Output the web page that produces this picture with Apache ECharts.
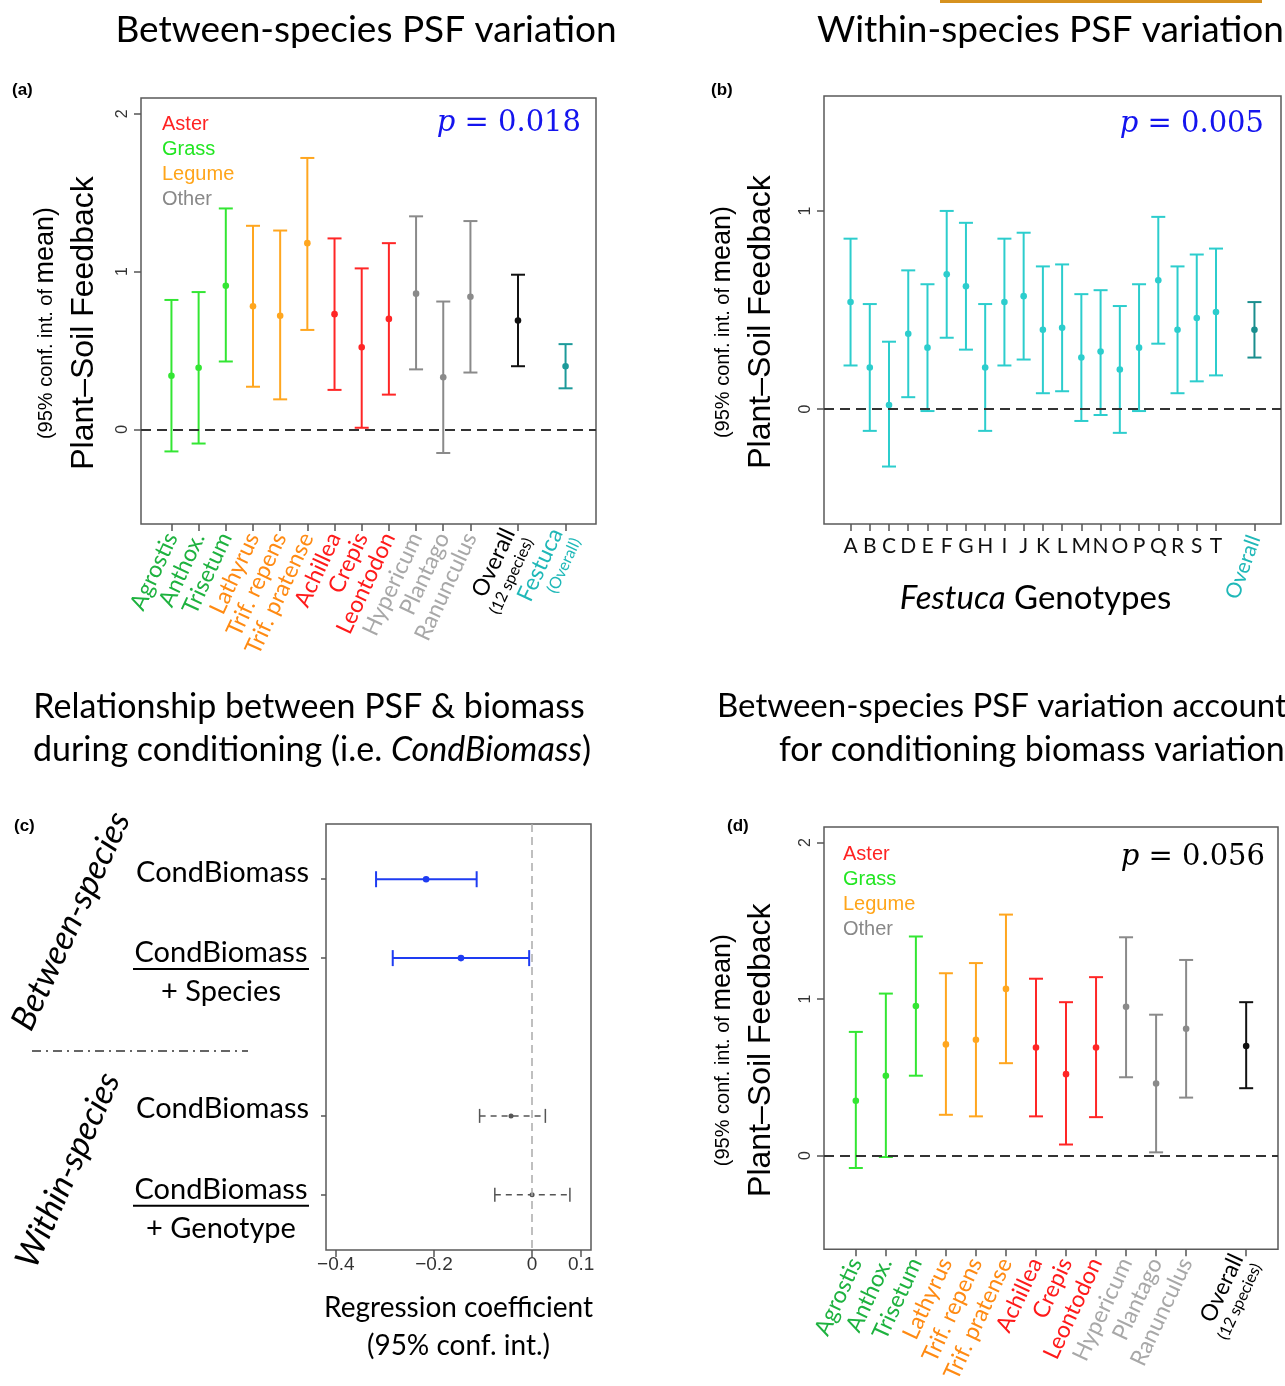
<!DOCTYPE html>
<html>
<head>
<meta charset="utf-8">
<script src="https://cdn.jsdelivr.net/npm/echarts@6/dist/echarts.min.js"></script>
<style>
  html, body { margin: 0; padding: 0; background: #fff; }
  #chart { width: 1285px; height: 1386px; }
</style>
</head>
<body>
<div id="chart"></div>
<script>
// ---- data ----
const speciesNames = ['Agrostis', 'Anthox.', 'Trisetum', 'Lathyrus', 'Trif. repens', 'Trif. pratense',
  'Achillea', 'Crepis', 'Leontodon', 'Hypericum', 'Plantago', 'Ranunculus'];
const speciesGroups = ['grass', 'grass', 'grass', 'legume', 'legume', 'legume',
  'aster', 'aster', 'aster', 'other', 'other', 'other'];

// (a) between-species PSF
const namesA = [...speciesNames, 'Overall', 'Festuca'];
const groupsA = [...speciesGroups, 'overall', 'festuca'];
const xPosA = [1, 2, 3, 4, 5, 6, 7, 8, 9, 10, 11, 12, 13.75, 15.5];
const meanA = [0.34, 0.39, 0.91, 0.78, 0.72, 1.18, 0.73, 0.52, 0.70, 0.86, 0.33, 0.84, 0.69, 0.40];
const lowA = [-0.14, -0.09, 0.43, 0.27, 0.19, 0.63, 0.25, 0.01, 0.22, 0.38, -0.15, 0.36, 0.40, 0.26];
const highA = [0.82, 0.87, 1.40, 1.29, 1.26, 1.72, 1.21, 1.02, 1.18, 1.35, 0.81, 1.32, 0.98, 0.54];

// (b) within-species (Festuca genotypes)
const genotypes = ['A', 'B', 'C', 'D', 'E', 'F', 'G', 'H', 'I', 'J', 'K', 'L', 'M', 'N', 'O', 'P', 'Q', 'R', 'S', 'T', 'Overall'];
const xPosB = [1, 2, 3, 4, 5, 6, 7, 8, 9, 10, 11, 12, 13, 14, 15, 16, 17, 18, 19, 20, 22];
const meanB = [0.54, 0.21, 0.02, 0.38, 0.31, 0.68, 0.62, 0.21, 0.54, 0.57, 0.40, 0.41, 0.26, 0.29, 0.20, 0.31, 0.65, 0.40, 0.46, 0.49, 0.40];
const lowB = [0.22, -0.11, -0.29, 0.06, -0.01, 0.36, 0.30, -0.11, 0.22, 0.25, 0.08, 0.09, -0.06, -0.03, -0.12, -0.01, 0.33, 0.08, 0.14, 0.17, 0.26];
const highB = [0.86, 0.53, 0.34, 0.70, 0.63, 1.00, 0.94, 0.53, 0.86, 0.89, 0.72, 0.73, 0.58, 0.60, 0.52, 0.63, 0.97, 0.72, 0.78, 0.81, 0.54];

// (c) regression coefficients of CondBiomass
const rowsC = [1, 2, 4, 5];
const rowMainC = ['CondBiomass', 'CondBiomass', 'CondBiomass', 'CondBiomass'];
const rowSubC = ['', '+ Species', '', '+ Genotype'];
const coefC = [-0.216, -0.145, -0.043, 0.0];
const lowC = [-0.318, -0.284, -0.107, -0.076];
const highC = [-0.113, -0.006, 0.027, 0.077];
const xTicksC = [-0.4, -0.2, 0, 0.1];

// (d) between-species PSF accounting for conditioning biomass
const namesD = [...speciesNames, 'Overall'];
const groupsD = [...speciesGroups, 'overall'];
const xPosD = [1, 2, 3, 4, 5, 6, 7, 8, 9, 10, 11, 12, 14];
const meanD = [0.35, 0.51, 0.955, 0.71, 0.74, 1.065, 0.69, 0.52, 0.69, 0.95, 0.46, 0.81, 0.70];
const lowD = [-0.08, -0.01, 0.51, 0.26, 0.25, 0.59, 0.25, 0.07, 0.245, 0.50, 0.02, 0.37, 0.43];
const highD = [0.79, 1.035, 1.40, 1.165, 1.23, 1.54, 1.13, 0.98, 1.14, 1.395, 0.90, 1.25, 0.98];

const psfTicks = [0, 1, 2];
const legendItems = ['Aster', 'Grass', 'Legume', 'Other'];

// ---- styling ----
const barColor = { grass: '#33E633', legume: '#FFA61F', aster: '#FF2626', other: '#8A8A8A', overall: '#111111', festuca: '#1C9A9A' };
const labelColor = { grass: '#1EB23F', legume: '#FF8A12', aster: '#FF1A1A', other: '#A8A8A8', overall: '#000000', festuca: '#1FB8B8' };
const legendColor = { Aster: '#FF2222', Grass: '#22E622', Legume: '#FFA51A', Other: '#888888' };
const genoColor = '#2CCDCD';
const genoOverallColor = '#1A8E8E';
const blueP = '#1414EE';
const SANS = 'Lato';
const ARIAL = 'Liberation Sans';

function vBars(colors) {
  return function (params, api) {
    const x = api.value(0);
    const top = api.coord([x, api.value(3)]);
    const bot = api.coord([x, api.value(2)]);
    const mid = api.coord([x, api.value(1)]);
    const c = colors[params.dataIndex];
    const st = { stroke: c, lineWidth: 2 };
    const cap = 7;
    return {
      type: 'group',
      children: [
        { type: 'line', shape: { x1: top[0], y1: top[1], x2: bot[0], y2: bot[1] }, style: st },
        { type: 'line', shape: { x1: top[0] - cap, y1: top[1], x2: top[0] + cap, y2: top[1] }, style: st },
        { type: 'line', shape: { x1: bot[0] - cap, y1: bot[1], x2: bot[0] + cap, y2: bot[1] }, style: st },
        { type: 'circle', shape: { cx: mid[0], cy: mid[1], r: 3.3 }, style: { fill: c } }
      ]
    };
  };
}

function hBars(params, api) {
  const row = api.value(0);
  const left = api.coord([api.value(2), row]);
  const right = api.coord([api.value(3), row]);
  const mid = api.coord([api.value(1), row]);
  const between = params.dataIndex < 2;
  const c = between ? '#1E3CF2' : '#555555';
  const st = { stroke: c, lineWidth: between ? 2 : 1.5, lineDash: between ? null : [6, 5] };
  const capSt = { stroke: c, lineWidth: between ? 2 : 1.5 };
  const cap = between ? 8 : 7;
  return {
    type: 'group',
    children: [
      { type: 'line', shape: { x1: left[0], y1: left[1], x2: right[0], y2: right[1] }, style: st },
      { type: 'line', shape: { x1: left[0], y1: left[1] - cap, x2: left[0], y2: left[1] + cap }, style: capSt },
      { type: 'line', shape: { x1: right[0], y1: right[1] - cap, x2: right[0], y2: right[1] + cap }, style: capSt },
      { type: 'circle', shape: { cx: mid[0], cy: mid[1], r: between ? 3.3 : 2.5 }, style: { fill: c } }
    ]
  };
}

const zeroLine = {
  silent: true,
  symbol: ['none', 'none'],
  label: { show: false },
  lineStyle: { color: '#333', type: [10, 6], width: 2 },
  data: [{ yAxis: 0 }]
};

const speciesRich = {};
Object.keys(labelColor).forEach(g => {
  speciesRich[g] = { color: labelColor[g], fontSize: 23, fontFamily: SANS, lineHeight: 24 };
  speciesRich[g + 'Sub'] = { color: labelColor[g], fontSize: 16, fontFamily: SANS, lineHeight: 20 };
});

function speciesLabel(names, groups, xs) {
  return function (v) {
    const i = xs.indexOf(Number(v));
    if (i < 0) return '';
    const g = groups[i];
    if (g === 'overall') return '{overall|Overall}\n{overallSub|(12 species)}';
    if (g === 'festuca') return '{festuca|Festuca}\n{festucaSub|(Overall)}';
    return '{' + g + '|' + names[i] + '}';
  };
}

function psfYAxis(gridIndex, min, max, ticks, gap) {
  return {
    gridIndex, type: 'value', min, max,
    axisLine: { show: false, onZero: false },
    splitLine: { show: false },
    axisTick: { show: true, customValues: ticks, length: 7, lineStyle: { color: '#555', width: 1.5 } },
    axisLabel: { customValues: ticks, rotate: 90, margin: 10, fontSize: 16, color: '#333', fontFamily: ARIAL },
    name: '{s|(95% conf. int. of }{m|mean)}\n{b|Plant\u2013Soil Feedback}',
    nameLocation: 'middle', nameRotate: 90, nameGap: gap,
    nameTextStyle: {
      padding: [0, 24, 0, 0],
      rich: {
        s: { fontSize: 20, fontFamily: ARIAL, color: '#000', lineHeight: 38 },
        m: { fontSize: 27, fontFamily: ARIAL, color: '#000', lineHeight: 38 },
        b: { fontSize: 32, fontFamily: ARIAL, color: '#000', lineHeight: 38 }
      }
    }
  };
}

function speciesXAxis(gridIndex, min, max, names, groups, xs) {
  return {
    gridIndex, type: 'value', min, max,
    axisLine: { show: false, onZero: false },
    splitLine: { show: false },
    axisTick: { show: true, customValues: xs, length: 7, lineStyle: { color: '#555', width: 1.5 } },
    axisLabel: { customValues: xs, rotate: 65, margin: 10, formatter: speciesLabel(names, groups, xs), rich: speciesRich }
  };
}

const gridStyle = { show: true, borderColor: '#5a5a5a', borderWidth: 1.5, backgroundColor: 'transparent' };

// ---- annotations ----
function txt(x, y, text, opts) {
  return { type: 'text', x, y, silent: true, style: Object.assign({ text, fill: '#000', fontFamily: SANS, fontSize: 37, align: 'left', verticalAlign: 'middle' }, opts || {}) };
}

const pRich = { i: { fontStyle: 'italic', fontFamily: 'DejaVu Serif', fontSize: 29 } };
const graphics = [
  { type: 'rect', shape: { x: 940, y: 0, width: 322, height: 3 }, style: { fill: '#D6921F' }, silent: true },
  txt(366, 30, 'Between-species PSF variation', { align: 'center' }),
  txt(817, 30, 'Within-species PSF variation'),
  txt(309, 707, 'Relationship between PSF & biomass', { align: 'center', fontSize: 34 }),
  txt(312, 750, 'during conditioning (i.e. {i|CondBiomass})', { align: 'center', fontSize: 34, rich: { i: { fontStyle: 'italic', fontSize: 34, fontFamily: SANS } } }),
  txt(717, 706, 'Between-species PSF variation accounting', { fontSize: 33 }),
  txt(779, 750, 'for conditioning biomass variation', { fontSize: 34 }),
  txt(12, 90, '(a)', { fontFamily: ARIAL, fontWeight: 'bold', fontSize: 17 }),
  txt(711, 90, '(b)', { fontFamily: ARIAL, fontWeight: 'bold', fontSize: 17 }),
  txt(14, 826, '(c)', { fontFamily: ARIAL, fontWeight: 'bold', fontSize: 17 }),
  txt(727, 826, '(d)', { fontFamily: ARIAL, fontWeight: 'bold', fontSize: 17 }),
  txt(581, 123, '{i|p} = 0.018', { align: 'right', fill: blueP, fontFamily: 'DejaVu Serif', fontSize: 29, rich: pRich }),
  txt(1264, 124, '{i|p} = 0.005', { align: 'right', fill: blueP, fontFamily: 'DejaVu Serif', fontSize: 29, rich: pRich }),
  txt(1265, 857, '{i|p} = 0.056', { align: 'right', fontFamily: 'DejaVu Serif', fontSize: 29, rich: pRich }),
  txt(71, 921, 'Between-species', { align: 'center', fontStyle: 'italic', fontSize: 34 }),
  txt(68, 1170, 'Within-species', { align: 'center', fontStyle: 'italic', fontSize: 34 }),
  { type: 'line', shape: { x1: 32, y1: 1051, x2: 248, y2: 1051 }, style: { stroke: '#333', lineWidth: 1.5, lineDash: [9, 5, 2, 5] }, silent: true }
];
graphics[14].rotation = 65 * Math.PI / 180;
graphics[15].rotation = 66 * Math.PI / 180;
legendItems.forEach((name, i) => {
  graphics.push(txt(162, 124 + i * 25, name, { fontFamily: ARIAL, fontSize: 20, fill: legendColor[name] }));
  graphics.push(txt(843, 854 + i * 25, name, { fontFamily: ARIAL, fontSize: 20, fill: legendColor[name] }));
});

// ---- chart ----
const chart = echarts.init(document.getElementById('chart'));

const option = {
  animation: false,
  backgroundColor: '#fff',
  grid: [
    Object.assign({ left: 141, top: 98, width: 455, height: 426 }, gridStyle),
    Object.assign({ left: 824, top: 96, width: 457, height: 428 }, gridStyle),
    Object.assign({ left: 326, top: 824, width: 265, height: 426 }, gridStyle),
    Object.assign({ left: 824, top: 827, width: 454, height: 427 }, gridStyle)
  ],
  xAxis: [
    speciesXAxis(0, -0.12, 16.62, namesA, groupsA, xPosA),
    {
      gridIndex: 1, type: 'value', min: -0.38, max: 23.38,
      axisLine: { show: false, onZero: false }, splitLine: { show: false },
      axisTick: { show: true, customValues: xPosB, length: 7, lineStyle: { color: '#555', width: 1.5 } },
      axisLabel: {
        customValues: xPosB.slice(0, 20), margin: 12, fontSize: 21, fontFamily: SANS, color: '#111',
        formatter: v => genotypes[xPosB.indexOf(Number(v))]
      },
      name: '{i|Festuca} Genotypes', nameLocation: 'middle', nameGap: 58,
      nameTextStyle: {
        fontSize: 33, fontFamily: SANS, color: '#000', padding: [0, 34, 0, 0],
        rich: { i: { fontStyle: 'italic', fontSize: 33, fontFamily: SANS, color: '#000' } }
      }
    },
    {
      gridIndex: 1, type: 'value', min: -0.38, max: 23.38, position: 'bottom',
      axisLine: { show: false, onZero: false }, splitLine: { show: false }, axisTick: { show: false },
      axisLabel: {
        customValues: xPosB.slice(20), rotate: 70, margin: 12, fontSize: 21, fontFamily: SANS, color: '#1FB8B8',
        formatter: v => genotypes[xPosB.indexOf(Number(v))]
      }
    },
    {
      gridIndex: 2, type: 'value', min: -0.42, max: 0.12,
      axisLine: { show: false, onZero: false }, splitLine: { show: false },
      axisTick: { show: true, customValues: xTicksC, length: 7, lineStyle: { color: '#555', width: 1.5 } },
      axisLabel: {
        customValues: xTicksC, margin: 5, fontSize: 19, fontFamily: ARIAL, color: '#333',
        formatter: v => (v < 0 ? '\u2212' + Math.abs(v) : String(v))
      },
      name: 'Regression coefficient\n(95% conf. int.)', nameLocation: 'middle', nameGap: 39,
      nameTextStyle: { fontSize: 28, fontFamily: SANS, color: '#000', lineHeight: 38 }
    },
    speciesXAxis(3, -0.06, 15.06, namesD, groupsD, xPosD)
  ],
  yAxis: [
    psfYAxis(0, -0.6, 2.1, psfTicks, 38),
    psfYAxis(1, -0.58, 1.58, psfTicks.slice(0, 2), 44),
    {
      gridIndex: 2, type: 'value', min: 0.3, max: 5.7, inverse: true,
      axisLine: { show: false, onZero: false }, splitLine: { show: false },
      axisTick: { show: true, customValues: rowsC, length: 5, lineStyle: { color: '#555', width: 1.5 } },
      axisLabel: {
        customValues: rowsC, margin: 17,
        formatter: v => {
          const i = rowsC.indexOf(Number(v));
          if (rowSubC[i]) return '{sp|}\n{u|' + rowMainC[i] + '}\n{ul|}\n{n|' + rowSubC[i] + '}';
          return '{one|' + rowMainC[i] + '}';
        },
        rich: {
          sp: { height: 36, width: 1 },
          u: { fontSize: 29, fontFamily: SANS, color: '#000', lineHeight: 30, width: 176, align: 'center' },
          ul: { height: 2, width: 176, backgroundColor: '#000' },
          n: { fontSize: 29, fontFamily: SANS, color: '#000', lineHeight: 44, width: 176, align: 'center' },
          one: { fontSize: 29, fontFamily: SANS, color: '#000', lineHeight: 30, padding: [0, 0, 14, 0] }
        }
      }
    },
    psfYAxis(3, -0.6, 2.1, psfTicks, 44)
  ],
  series: [
    {
      type: 'custom', xAxisIndex: 0, yAxisIndex: 0, silent: true,
      renderItem: vBars(groupsA.map(g => barColor[g])),
      encode: { x: 0, y: [1, 2, 3] },
      data: xPosA.map((x, i) => [x, meanA[i], lowA[i], highA[i]]),
      markLine: zeroLine
    },
    {
      type: 'custom', xAxisIndex: 1, yAxisIndex: 1, silent: true,
      renderItem: vBars(xPosB.map((x, i) => (i < 20 ? genoColor : genoOverallColor))),
      encode: { x: 0, y: [1, 2, 3] },
      data: xPosB.map((x, i) => [x, meanB[i], lowB[i], highB[i]]),
      markLine: zeroLine
    },
    {
      type: 'custom', xAxisIndex: 3, yAxisIndex: 2, silent: true,
      renderItem: hBars,
      encode: { y: 0, x: [1, 2, 3] },
      data: rowsC.map((r, i) => [r, coefC[i], lowC[i], highC[i]]),
      markLine: {
        silent: true, symbol: ['none', 'none'], label: { show: false },
        lineStyle: { color: '#aaa', type: [8, 5], width: 1.5 },
        data: [{ xAxis: 0 }]
      }
    },
    {
      type: 'custom', xAxisIndex: 4, yAxisIndex: 3, silent: true,
      renderItem: vBars(groupsD.map(g => barColor[g])),
      encode: { x: 0, y: [1, 2, 3] },
      data: xPosD.map((x, i) => [x, meanD[i], lowD[i], highD[i]]),
      markLine: zeroLine
    }
  ],
  graphic: graphics
};

chart.setOption(option);
window.addEventListener('resize', () => chart.resize());
</script>
</body>
</html>
